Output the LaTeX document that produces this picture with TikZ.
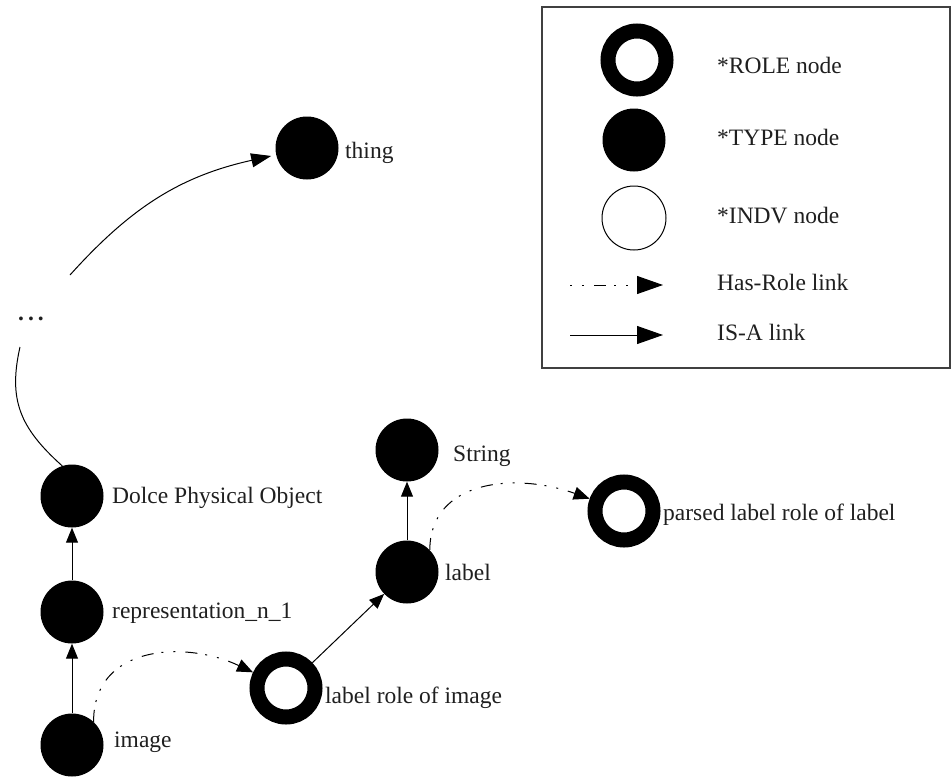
\documentclass[tikz,border=0pt]{standalone}
\usepackage{fontspec}
\setmainfont{Liberation Serif}
\usetikzlibrary{arrows.meta}
\begin{document}
\begin{tikzpicture}[x=1pt,y=-1pt,
  typenode/.style={circle,fill=black,draw=none,minimum size=63pt,inner sep=0pt},
  rolenode/.style={circle,draw=black,fill=white,line width=15pt,minimum size=58pt,inner sep=0pt,outer sep=7.5pt},
  indvnode/.style={circle,draw=black,fill=white,line width=1pt,minimum size=64pt,inner sep=0pt},
  lbl/.style={anchor=base west,inner sep=0pt,font=\fontsize{23.5}{28}\selectfont,text=black!88},
  link/.style={line width=1pt},
  isa/.style={link,-{Triangle[length=15pt,width=12pt]}},
  hasrole/.style={link,dash pattern=on 12pt off 8pt on 2pt off 10pt on 2pt off 10pt,
                  -{Triangle[length=16pt,width=13pt]}}
]
\useasboundingbox (0,0) rectangle (951,777);

% ---- taxonomy nodes ----
\node[typenode] (thing)  at (307,148) {};
\node[typenode] (dolce)  at (72,496) {};
\node[typenode] (repr)   at (72,612) {};
\node[typenode] (image)  at (72,745) {};
\node[rolenode] (lroi)   at (286,688) {};
\node[typenode] (label)  at (407,572) {};
\node[typenode] (string) at (407,450) {};
\node[rolenode] (plrol)  at (624,511) {};

\node[lbl] (thingT)  at (345,158) {thing};
\node[lbl,font=\fontsize{23.5}{28}\selectfont\bfseries] (dots) at (18,320) {.\kern4pt.\kern4pt.};
\node[lbl] (dolceT)  at (112,503) {Dolce Physical Object};
\node[lbl] (reprT)   at (112,618) {representation\_n\_1};
\node[lbl] (imageT)  at (114,747) {image};
\node[lbl] (lroiT)   at (325,703) {label role of image};
\node[lbl] (labelT)  at (445,580) {label};
\node[lbl] (stringT) at (453,461) {String};
\node[lbl] (plrolT)  at (663,520) {parsed label role of label};

% loose ends of the elided chain
\coordinate (dotsLow)  at (20,347);
\coordinate (dotsHigh) at (70,275);

% ---- IS-A links ----
\draw[isa] (image) -- (repr);
\draw[isa] (repr) -- (dolce);
\draw[isa] (label) -- (string);
\draw[isa] (lroi) -- (label);
\draw[link] (dolce.108) .. controls (20,428) and (8,400) .. (dotsLow);
\draw[link,-{Triangle[length=20pt,width=14pt]},shorten >=5pt]
  (dotsHigh) .. controls (131.6,206.6) and (181,176) .. (thing);

% ---- Has-Role links ----
\draw[hasrole] (image.47) .. controls (93,645) and (185,640) .. (lroi);
\draw[hasrole] (label.44) .. controls (430,480) and (515,472) .. (plrol);

% ---- legend ----
\draw[line width=1.3pt,black!75] (542,7) rectangle (950,368);
\node[rolenode] (lgRole) at (637,60) {};
\node[typenode] (lgType) at (634,140) {};
\node[indvnode] (lgIndv) at (634,218) {};
\coordinate (hrA) at (570,285);
\coordinate (hrB) at (663,285);
\coordinate (isA) at (570,335);
\coordinate (isB) at (663,335);
\draw[hasrole,dash phase=20pt,-{Triangle[length=26pt,width=18pt]}] (hrA) -- (hrB);
\draw[link,-{Triangle[length=26pt,width=18pt]}] (isA) -- (isB);

\node[lbl] (lgRoleT) at (717,73)  {*ROLE node};
\node[lbl] (lgTypeT) at (717,145) {*TYPE node};
\node[lbl] (lgIndvT) at (717,223) {*INDV node};
\node[lbl] (lgHrT)   at (717,290) {Has-Role link};
\node[lbl] (lgIsT)   at (717,340) {IS-A link};
\end{tikzpicture}
\end{document}
